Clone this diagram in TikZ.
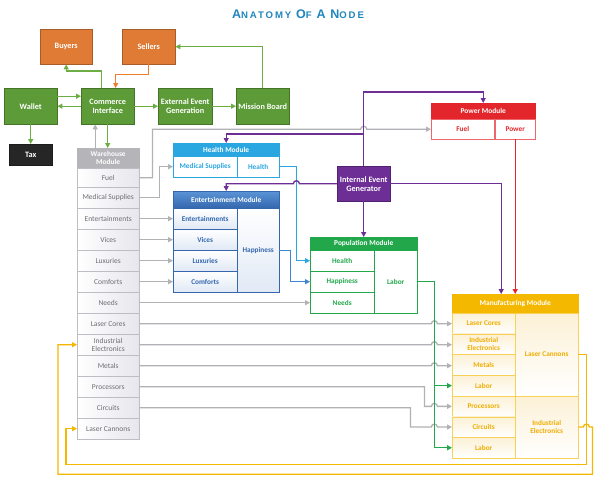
\documentclass[tikz,border=0pt]{standalone}
\usepackage{fontspec}
\setmainfont{Carlito}
\newfontfamily\titlefont[LetterSpace=20]{Liberation Sans}
\usetikzlibrary{arrows.meta,calc}

\definecolor{ctitle}{HTML}{1F86BE}
\definecolor{cgreen}{HTML}{5C9B37}
\definecolor{lgreen}{HTML}{6CAE44}
\definecolor{corange}{HTML}{E07B36}
\definecolor{lorange}{HTML}{EE7D2F}
\definecolor{ctax}{HTML}{262626}
\definecolor{cwhhead}{HTML}{B4B4B9}
\definecolor{whline}{HTML}{BDBDC4}
\definecolor{whfill}{HTML}{E6E6EC}
\definecolor{whtext}{HTML}{6E6E72}
\definecolor{lgray}{HTML}{B2B2B6}
\definecolor{chealth}{HTML}{2AA6E0}
\definecolor{centtop}{HTML}{5A94D6}
\definecolor{cent}{HTML}{3467AE}
\definecolor{entfill}{HTML}{E1E9F5}
\definecolor{chap}{HTML}{3C86D4}
\definecolor{cpop}{HTML}{22A74B}
\definecolor{cpurple}{HTML}{6D2E95}
\definecolor{cred}{HTML}{E3262C}
\definecolor{cgold}{HTML}{F5B800}
\definecolor{mfgtext}{HTML}{EFAD00}
\definecolor{mfgfill}{HTML}{FCF1D6}

\newcommand\tbig[1]{{\fontsize{12.5}{12.5}\selectfont #1}}
\newcommand\tsmall[1]{{\fontsize{9.6}{12}\selectfont #1}}

\tikzset{
  box/.style={anchor=north west, draw=#1!75!black, fill=#1, text=white, inner sep=1pt, align=center, font=\fontsize{8.2}{9}\selectfont\bfseries},
  head/.style={anchor=north west, draw=#1, fill=#1, text=white, inner sep=0pt, align=center, font=\fontsize{7.4}{7.6}\selectfont\bfseries},
  cell/.style={anchor=north west, draw=#1, fill=white, text=#1, inner sep=0pt, align=center, font=\fontsize{7.3}{8.2}\selectfont\bfseries},
  entcell/.style={cell=cent, top color=white, bottom color=entfill},
  mfgcell/.style={cell=mfgtext, draw=cgold!65, top color=mfgfill, bottom color=white},
  pwrcell/.style={cell=cred, draw=cred!70},
  whcell/.style={anchor=north west, draw=whline, left color=white, right color=whfill, text=whtext, inner sep=0pt, align=center, minimum width=62pt, minimum height=21pt, font=\fontsize{7.5}{8.2}\selectfont},
  dims/.style 2 args={minimum width=#1pt, minimum height=#2pt},
  arr/.style={draw=#1, line width=1.3pt, -{Triangle[length=5pt,width=5pt]}}
}

\begin{document}
\begin{tikzpicture}[x=1pt,y=-1pt]
  \useasboundingbox[fill=white] (0,0) rectangle (597,480);

  %%%%% TITLE %%%%%
  \node[text=ctitle, font=\titlefont\bfseries] (title) at (298,14)
    {\tbig{A}\tsmall{NATOMY} \tbig{O}\tsmall{F} \tbig{A} \tbig{N}\tsmall{ODE}};

  %%%%% COMMERCE %%%%%
  \node[box=corange, dims={52}{35}] (buyers) at (40,29) {Buyers};
  \node[box=corange, dims={53}{35}] (sellers) at (122,29) {Sellers};
  \node[box=cgreen, dims={53}{36}] (wallet) at (4,88) {Wallet};
  \node[box=cgreen, dims={53}{36}] (commerce) at (81,88) {Commerce\\Interface};
  \node[box=cgreen, dims={54}{36}] (external) at (158,88) {External Event\\Generation};
  \node[box=cgreen, dims={53}{36}] (mission) at (236,88) {Mission Board};
  \node[box=ctax, dims={43}{21}] (tax) at (9,144) {Tax};
  \node[box=cpurple, dims={53}{35}] (ieg) at (337,166) {Internal Event\\Generator};

  %%%%% WAREHOUSE %%%%%
  \node[head=cwhhead, dims={62}{20}] (wh-head) at (77,148) {Warehouse\\Module};
  \node[whcell, dims={62}{19}] (wh-fuel) at (77,168) {Fuel};
  \node[whcell] (wh-med) at (77,187) {Medical Supplies};
  \node[whcell] (wh-ent) at (77,208) {Entertainments};
  \node[whcell] (wh-vic) at (77,229) {Vices};
  \node[whcell] (wh-lux) at (77,250) {Luxuries};
  \node[whcell] (wh-com) at (77,271) {Comforts};
  \node[whcell] (wh-needs) at (77,292) {Needs};
  \node[whcell] (wh-lc) at (77,313) {Laser Cores};
  \node[whcell] (wh-ie) at (77,334) {Industrial\\Electronics};
  \node[whcell] (wh-met) at (77,355) {Metals};
  \node[whcell] (wh-proc) at (77,376) {Processors};
  \node[whcell] (wh-circ) at (77,397) {Circuits};
  \node[whcell] (wh-lcann) at (77,418) {Laser Cannons};

  %%%%% HEALTH %%%%%
  \node[head=chealth, dims={106}{13}] (hl-head) at (173,143) {Health Module};
  \node[cell=chealth, dims={64}{21}] (hl-med) at (173,156) {Medical Supplies};
  \node[cell=chealth, dims={42}{21}] (hl-health) at (237,156) {Health};

  %%%%% ENTERTAINMENT %%%%%
  \node[head=cent, top color=centtop, bottom color=cent, dims={106}{17}] (ent-head) at (173,191) {Entertainment Module};
  \node[entcell, dims={64}{21}] (ent-ent) at (173,208) {Entertainments};
  \node[entcell, dims={64}{21}] (ent-vic) at (173,229) {Vices};
  \node[entcell, dims={64}{21}] (ent-lux) at (173,250) {Luxuries};
  \node[entcell, dims={64}{21}] (ent-com) at (173,271) {Comforts};
  \node[entcell, dims={42}{84}] (ent-hap) at (237,208) {Happiness};

  %%%%% POPULATION %%%%%
  \node[head=cpop, dims={107}{13}] (pop-head) at (310,237) {Population Module};
  \node[cell=cpop, dims={64}{21}] (pop-health) at (310,250) {Health};
  \node[cell=cpop, dims={64}{21}] (pop-hap) at (310,271) {Happiness};
  \node[cell=cpop, dims={64}{21}] (pop-needs) at (310,292) {Needs};
  \node[cell=cpop, dims={43}{63}] (pop-lab) at (374,250) {Labor};

  %%%%% POWER %%%%%
  \node[head=cred, dims={104}{16}] (pwr-head) at (431,103) {Power Module};
  \node[pwrcell, dims={63}{20}] (pwr-fuel) at (431,119) {Fuel};
  \node[pwrcell, dims={40}{20}] (pwr-pow) at (495,119) {Power};

  %%%%% MANUFACTURING %%%%%
  \node[head=cgold, dims={126}{19}] (mfg-head) at (452,294) {Manufacturing Module};
  \node[mfgcell, dims={63}{20.7}] (mfg-lc) at (452,313) {Laser Cores};
  \node[mfgcell, dims={63}{20.7}] (mfg-ie) at (452,333.7) {Industrial\\Electronics};
  \node[mfgcell, dims={63}{20.7}] (mfg-met) at (452,354.4) {Metals};
  \node[mfgcell, dims={63}{20.7}] (mfg-lab1) at (452,375.1) {Labor};
  \node[mfgcell, dims={63}{20.7}] (mfg-proc) at (452,395.8) {Processors};
  \node[mfgcell, dims={63}{20.7}] (mfg-circ) at (452,416.5) {Circuits};
  \node[mfgcell, dims={63}{20.7}] (mfg-lab2) at (452,437.2) {Labor};
  \node[mfgcell, dims={63}{82.8}] (mfg-lcann) at (515,313) {Laser Cannons};
  \node[mfgcell, dims={63}{62.1}] (mfg-iel) at (515,395.8) {Industrial\\Electronics};

  \coordinate (laborbus) at ($(pop-lab.east)+(17,0)$);

  %%%%% CONNECTORS %%%%%
  \draw[arr=lgreen] ($(commerce.north)+(-6.5,0)$) -- ++(0,-17) -| (buyers.south);
  \draw[arr=lorange] (sellers.south) -- ++(0,10) -| ($(commerce.north)+(8,0)$);
  \draw[arr=lgreen] (mission.north) |- (sellers.east);
  \draw[arr=lgreen] ($(wallet.east)+(0,-10)$) -- ($(commerce.west)+(0,-10)$);
  \draw[arr=lgreen] (commerce.west) -- (wallet.east);
  \draw[arr=lgreen] (commerce.east) -- (external.west);
  \draw[arr=lgreen] (external.east) -- (mission.west);
  \draw[arr=lgreen] (wallet.south) -- (tax.north);
  \draw[arr=lgreen] (commerce.south) -- (commerce.south |- wh-head.north);
  \draw[arr=lgray] ($(wh-head.north)+(-13,0)$) -- ($(commerce.south)+(-12.5,0)$);

  \draw[arr=lgray] (wh-fuel.east) -- ++(13,0) |- ($(pwr-fuel.west -| ieg.north)+(-3,0)$) arc (180:360:3) -- (pwr-fuel.west);
  \draw[arr=lgray] (wh-med.east) -- ++(20,0) |- (hl-med.west);
  \draw[arr=lgray] (wh-ent.east) -- (ent-ent.west);
  \draw[arr=lgray] (wh-vic.east) -- (ent-vic.west);
  \draw[arr=lgray] (wh-lux.east) -- (ent-lux.west);
  \draw[arr=lgray] (wh-com.east) -- (ent-com.west);
  \draw[arr=lgray] (wh-needs.east) -- (pop-needs.west);
  \draw[arr=lgray] (wh-lc.east) -- ($(wh-lc.east -| laborbus)+(-3,0)$) arc (180:360:3) -- (wh-lc.east -| mfg-lc.west);
  \draw[arr=lgray] (wh-ie.east) -- ($(wh-ie.east -| laborbus)+(-3,0)$) arc (180:360:3) -- (wh-ie.east -| mfg-ie.west);
  \draw[arr=lgray] (wh-met.east) -- ($(wh-met.east -| laborbus)+(-3,0)$) arc (180:360:3) -- (wh-met.east -| mfg-met.west);
  \draw[arr=lgray] (wh-proc.east) -- ++(285,0) |- ($(mfg-proc.west -| laborbus)+(-3,0)$) arc (180:360:3) -- (mfg-proc.west);
  \draw[arr=lgray] (wh-circ.east) -- ++(271,0) |- ($(mfg-circ.west -| laborbus)+(-3,0)$) arc (180:360:3) -- (mfg-circ.west);

  \draw[arr=chealth] (hl-health.east) -- ++(17,0) |- (pop-health.west);
  \draw[arr=chap] (ent-hap.east) -- ++(11,0) |- (pop-hap.west);

  \draw[arr=cpurple] (ieg.north) -- ++(0,-74) -| (pwr-head.north);
  \draw[arr=cpurple] ($(ieg.north)+(0,-32)$) -| (hl-head.north);
  \draw[arr=cpurple] (ieg.west) -- ($(ieg.west -| hl-health.east)+(20,0)$) arc (0:-180:3) -| (ent-head.north);
  \draw[arr=cpurple] (ieg.east) -| ($(mfg-head.north)+(-14,0)$);
  \draw[arr=cpurple] (ieg.south) -- (ieg.south |- pop-head.north);

  \draw[arr=cred] (pwr-pow.south) -- (pwr-pow.south |- mfg-head.north);

  \draw[arr=cpop] (pop-lab.east) -- (laborbus) |- (mfg-lab1.west);
  \draw[arr=cpop] (laborbus) |- (mfg-lab2.west);

  \draw[arr=cgold] (mfg-lcann.east) -- ++(8,0) |- ($(wh-lcann.west)+(-11,35.5)$) |- (wh-lcann.west);
  \draw[arr=cgold] (mfg-iel.east) -- ++(5,0) arc (180:360:3) -- ++(3,0) |- ($(wh-ie.west)+(-19,129.5)$) |- (wh-ie.west);
\end{tikzpicture}
\end{document}
